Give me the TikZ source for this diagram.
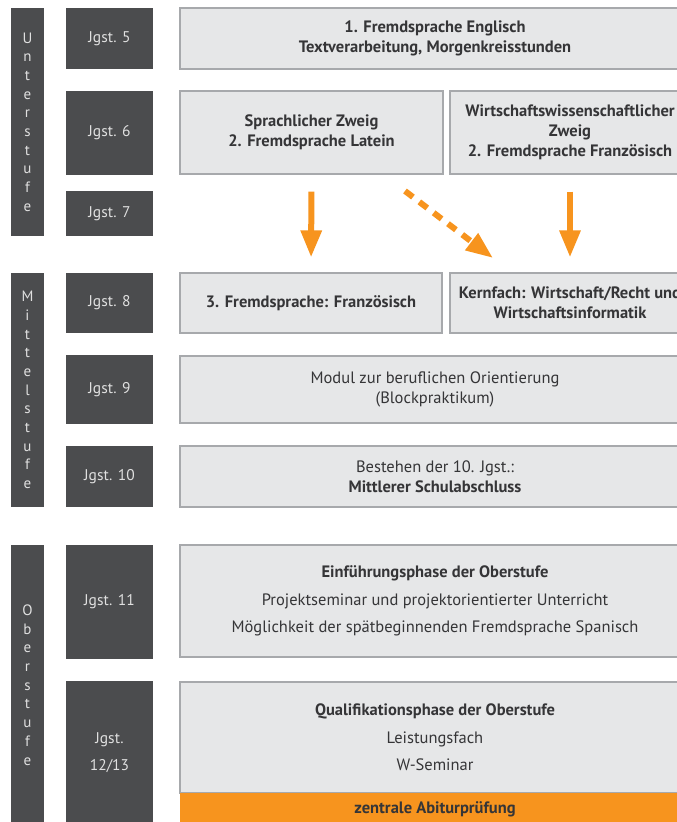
\documentclass[tikz,border=0pt]{standalone}
\usepackage{fontspec}
\setmainfont{PT Sans}
\usetikzlibrary{arrows.meta}
\definecolor{stufegrau}{HTML}{4B4C4E}
\definecolor{boxgrau}{HTML}{E6E7E8}
\definecolor{randgrau}{HTML}{A7A9AC}
\definecolor{textgrau}{HTML}{353537}
\definecolor{abiorange}{HTML}{F7941E}
\begin{document}
\begin{tikzpicture}[x=1pt, y=-1pt,
    stufe/.style={fill=stufegrau, text=white!88!black, inner sep=0pt, minimum width=33pt, align=center, font=\fontsize{15}{18.7}\selectfont},
    jgst/.style={fill=stufegrau, text=white!88!black, inner sep=0pt, minimum width=87pt, align=center, font=\fontsize{15.5}{27}\selectfont},
    fach/.style={draw=randgrau, line width=1.2pt, fill=boxgrau, text=textgrau, inner sep=0pt, align=center, font=\bfseries\fontsize{16.5}{19.8}\selectfont},
    normal/.style={font=\fontsize{16.5}{19.8}\selectfont},
    pfeil/.style={draw=abiorange, line width=6pt, -{Triangle[length=27pt,width=20pt]}}]
  \path[use as bounding box, fill=white] (0,0) rectangle (677,822);
  % Stufen
  \node (u) at (27.5,122) [stufe, minimum height=228pt] {U\\n\\t\\e\\r\\s\\t\\u\\f\\e};
  \node (m) at (27.5,390) [stufe, minimum height=234pt] {M\\i\\t\\t\\e\\l\\s\\t\\u\\f\\e};
  \node (o) at (27.5,685) [stufe, minimum height=280pt] {O\\b\\e\\r\\s\\t\\u\\f\\e};
  % Jahrgangsstufen
  \node (j5) at (109.5,38.5) [jgst, minimum height=61pt] {Jgst. 5};
  \node (j6) at (109.5,133) [jgst, minimum height=84pt] {Jgst. 6};
  \node (j7) at (109.5,213.5) [jgst, minimum height=45pt] {Jgst. 7};
  \node (j8) at (109.5,303) [jgst, minimum height=60pt] {Jgst. 8};
  \node (j9) at (109.5,389.5) [jgst, minimum height=69pt] {Jgst. 9};
  \node (j10) at (109.5,476.5) [jgst, minimum height=61pt] {Jgst. 10};
  \node (j11) at (109.5,602) [jgst, minimum height=114pt] {Jgst. 11};
  \node (j12) at (109.5,753) [jgst, minimum height=144pt] {Jgst.\\12/13};
  % Inhalte
  \node (eng) at (435,38.5) [fach, minimum width=510pt, minimum height=61pt] {1. Fremdsprache Englisch\\Textverarbeitung, Morgenkreisstunden};
  \node (spr) at (311.5,132.5) [fach, minimum width=263pt, minimum height=83pt] {Sprachlicher Zweig\\2. Fremdsprache Latein};
  \node (wiw) at (570,132.5) [fach, minimum width=240pt, minimum height=83pt] {Wirtschaftswissenschaftlicher\\Zweig\\2. Fremdsprache Französisch};
  \node (fr3) at (311,303) [fach, minimum width=262pt, minimum height=60pt] {3. Fremdsprache: Französisch};
  \node (kern) at (570,303) [fach, minimum width=240pt, minimum height=60pt] {Kernfach: Wirtschaft/Recht und\\Wirtschaftsinformatik};
  \node (modul) at (435,389.5) [fach, normal, minimum width=510pt, minimum height=67pt] {Modul zur beruflichen Orientierung\\(Blockpraktikum)};
  \node (msa) at (435,476.5) [fach, normal, minimum width=510pt, minimum height=61pt] {Bestehen der 10. Jgst.:\\\textbf{Mittlerer Schulabschluss}};
  \node (einf) at (435,601) [fach, normal, font=\fontsize{16.5}{27.5}\selectfont, minimum width=510pt, minimum height=112pt] {\textbf{Einführungsphase der Oberstufe}\\Projektseminar und projektorientierter Unterricht\\Möglichkeit der spätbeginnenden Fremdsprache Spanisch};
  \node (qual) at (435,737.5) [fach, normal, font=\fontsize{16.5}{27.5}\selectfont, minimum width=510pt, minimum height=111pt] {\textbf{Qualifikationsphase der Oberstufe}\\Leistungsfach\\W-Seminar};
  \node (abi) at (435,809.5) [fach, draw=none, fill=abiorange, minimum width=510pt, minimum height=33pt] {zentrale Abiturprüfung};
  % Pfeile
  \coordinate (dstart) at (405,191);
  \coordinate (dend) at (493,258);
  \draw[pfeil, shorten <=17pt, shorten >=15pt] (spr.south) -- (fr3.north);
  \draw[pfeil, shorten <=17pt, shorten >=15pt] (wiw.south) -- (kern.north);
  \draw[pfeil, dash pattern=on 10pt off 8pt] (dstart) -- (dend);
\end{tikzpicture}
\end{document}
